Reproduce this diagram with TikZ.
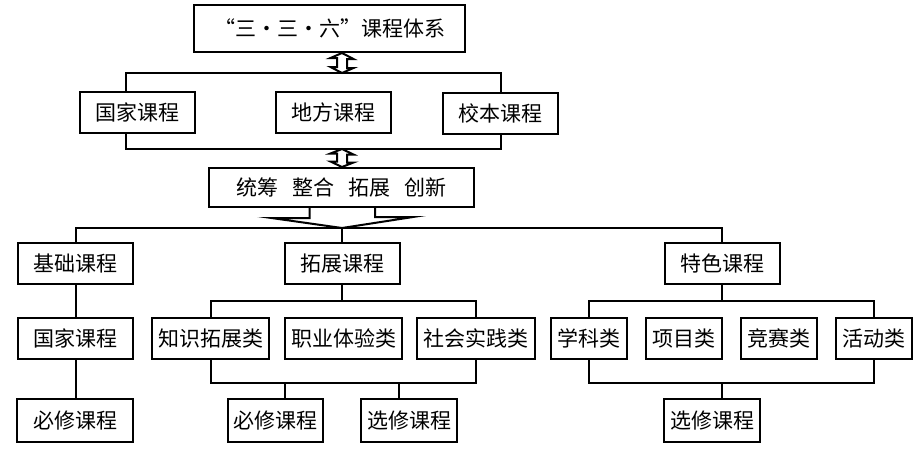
\documentclass[tikz,border=0pt]{standalone}
\usepackage{fontspec}
\setmainfont{Noto Sans CJK SC}
\usepackage{tikz}

\begin{document}
\begin{tikzpicture}[x=0.5pt,y=-0.5pt,line width=1pt,
    box/.style={draw,line width=1pt,inner sep=0pt,minimum height=20.5pt,
      font=\fontsize{10.5}{12}\selectfont},
    wide/.style={minimum width=57.5pt},
    small/.style={minimum width=38pt},
    low/.style={minimum height=21.5pt}]
    \useasboundingbox (0,0) rectangle (919,450);
    % top
    \node[box,minimum width=135.5pt,minimum height=23.5pt] (sys) at (329.5,28.5) {“三・三・六”课程体系};
    \node[box,wide] (gj) at (137,112.5) {国家课程};
    \node[box,wide] (df) at (333,112.5) {地方课程};
    \node[box,wide] (xb) at (500.5,113) {校本课程};
    \node[box,minimum width=132.5pt,minimum height=19.5pt] (tc) at (341.5,187.5) {统筹\hspace{7pt}整合\hspace{7pt}拓展\hspace{7pt}创新};
    % three kinds
    \node[box,wide] (jc) at (75.5,263.5) {基础课程};
    \node[box,wide] (tz) at (342,263.5)  {拓展课程};
    \node[box,wide] (ts) at (722,263.5)  {特色课程};
    % groups
    \node[box,wide] (gj2) at (75.5,338.5) {国家课程};
    \node[box,minimum width=58.5pt] (zs) at (210.5,338.5) {知识拓展类};
    \node[box,minimum width=58.5pt] (zy) at (343.5,338.5) {职业体验类};
    \node[box,minimum width=59pt]   (sh) at (476,338.5)   {社会实践类};
    \node[box,small] (xk) at (589,338.5) {学科类};
    \node[box,small] (xm) at (684,338.5) {项目类};
    \node[box,small] (js) at (779,338.5) {竞赛类};
    \node[box,small] (hd) at (874,338.5) {活动类};
    % required / elective
    \node[box,low,minimum width=58pt] (bx1) at (75,420.5)  {必修课程};
    \node[box,low,minimum width=47.5pt] (bx2) at (275.5,420.5) {必修课程};
    \node[box,low,minimum width=48pt] (xx2) at (409,420.5) {选修课程};
    \node[box,low,minimum width=48pt] (xx3) at (712,420.5) {选修课程};

    \coordinate (m1) at (342,73);
    \coordinate (m2) at (342,149);
    \coordinate (m3) at (342,228);
    \coordinate (b1) at (342,301);
    \coordinate (b2) at (722,301);
    \coordinate (c1) at (285,383);
    \coordinate (c2) at (399,383);
    \coordinate (c3) at (722,383);

    % brackets round the three levels
    \draw ([xshift=-5.5pt]gj.north) |- (m1) -| (xb.north);
    \draw ([xshift=-5.5pt]gj.south) |- (m2) -| (xb.south);
    % hollow double arrows
    \draw[fill=white,miter limit=20] (sys.south -| m1) -- ++(11.5,6) -- ++(-6.5,0) -- ++(0,9) -- ++(6.5,0)
      -- (m1) -- ++(-11.5,-6) -- ++(6.5,0) -- ++(0,-9) -- ++(-6.5,0) -- cycle;
    \draw[fill=white,miter limit=20] (m2) -- ++(11.5,5.5) -- ++(-6.5,0) -- ++(0,8) -- ++(6.5,0)
      -- (tc.north -| m2) -- ++(-11.5,-5.5) -- ++(6.5,0) -- ++(0,-8) -- ++(-6.5,0) -- cycle;
    % big arrow
    \draw[miter limit=20] ([xshift=-16pt]tc.south) -- ++(0,10) -- ++(-38,0) -- (m3) -- ++(71,-11) -- ++(-38,0) -- ++(0,-10);
    \draw (jc.north) |- (m3) -| (ts.north);
    \draw (m3) -- (tz.north);
    % left column
    \draw (jc) -- (gj2);
    \draw (gj2.south) -- (gj2.south |- bx1.north);
    % middle column
    \draw (tz.south) -- (b1);
    \draw (zs.north) |- (b1) -| (sh.north);
    \draw (zs.south) |- (c2) -| (sh.south);
    \draw (c1) -- (c1 |- bx2.north);
    \draw (c2) -- (c2 |- xx2.north);
    % right column
    \draw (ts.south) -- (b2);
    \draw (xk.north) |- (b2) -| (hd.north);
    \draw (xk.south) |- (c3) -| (hd.south);
    \draw (c3) -- (c3 |- xx3.north);
\end{tikzpicture}
\end{document}
